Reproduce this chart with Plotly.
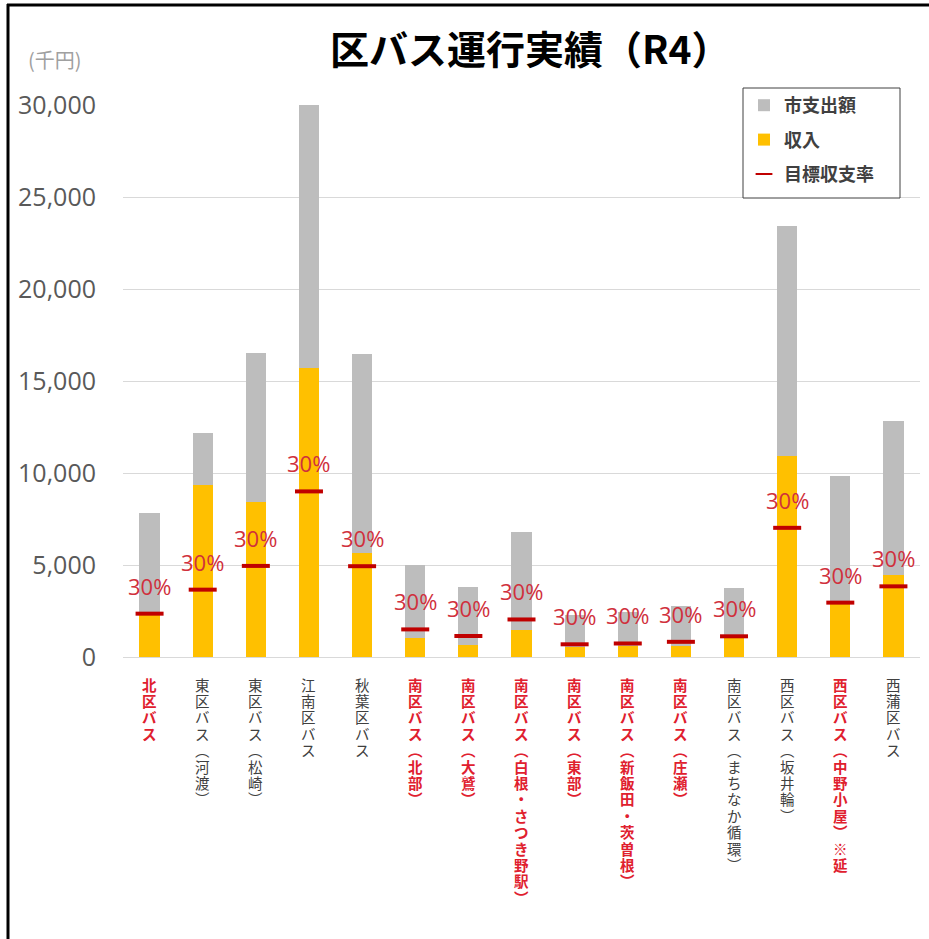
import plotly.graph_objects as go

# 区バス路線（各カテゴリ）
routes = [
    "北区バス",
    "東区バス（河渡）",
    "東区バス（松崎）",
    "江南区バス",
    "秋葉区バス",
    "南区バス（北部）",
    "南区バス（大鷲）",
    "南区バス（白根・さつき野駅）",
    "南区バス（東部）",
    "南区バス（新飯田・茨曽根）",
    "南区バス（庄瀬）",
    "南区バス（まちなか循環）",
    "西区バス（坂井輪）",
    "西区バス（中野小屋）※延",
    "西蒲区バス",
]

# 収入（千円）
income = [2300, 9350, 8400, 15700, 5650, 1050, 650, 1450, 520, 600, 620, 1130, 10900, 2900, 4450]

# 市支出額（千円）
city_expenditure = [5550, 2850, 8100, 14300, 10800, 3950, 3150, 5350, 1780, 1850, 2130, 2620, 12500, 6950, 8350]

# 目標収支率
target_rate = [0.30, 0.30, 0.30, 0.30, 0.30, 0.30, 0.30, 0.30, 0.30, 0.30, 0.30, 0.30, 0.30, 0.30, 0.30]

# 目標未達の路線（赤字で表示）
below_target = [
    "北区バス",
    "南区バス（北部）",
    "南区バス（大鷲）",
    "南区バス（白根・さつき野駅）",
    "南区バス（東部）",
    "南区バス（新飯田・茨曽根）",
    "南区バス（庄瀬）",
    "西区バス（中野小屋）※延",
]

y_ticks = [0, 5000, 10000, 15000, 20000, 25000, 30000]

# 運行経費合計と目標収入
total_cost = [i + c for i, c in zip(income, city_expenditure)]
target_income = [r * t for r, t in zip(target_rate, total_cost)]

JP = "Noto Sans CJK JP"
GRAY_BAR = "#BDBDBD"
YELLOW = "#FFC000"
RED_LINE = "#C00000"
RED_TEXT = "#E0202E"
DARK_TEXT = "#404040"

W, H = 929, 939
L, R, T, B = 123, 9, 105, 282
plot_w = W - L - R
plot_h = H - T - B

def px(v):
    return (v - L) / plot_w

def py(v):
    return (H - B - v) / plot_h

fig = go.Figure()

fig.add_trace(go.Bar(
    x=routes, y=income, name="収入",
    marker=dict(color=YELLOW, line=dict(width=0)),
    legendrank=2, legendgroup="g2",
))
fig.add_trace(go.Bar(
    x=routes, y=city_expenditure, name="市支出額",
    marker=dict(color=GRAY_BAR, line=dict(width=0)),
    legendrank=1, legendgroup="g1",
))
fig.add_trace(go.Scatter(
    x=routes, y=target_income, name="目標収支率", mode="markers",
    marker=dict(symbol="line-ew", size=20, color=RED_LINE,
                line=dict(color=RED_LINE, width=4)),
    legendrank=3, legendgroup="g3",
))

annotations = []

# 目標収支率ラベル
for name, tgt, rate in zip(routes, target_income, target_rate):
    annotations.append(dict(
        x=name, y=tgt, xref="x", yref="y",
        text=f"{rate:.0%}", showarrow=False,
        yanchor="middle", yshift=28,
        font=dict(family="Open Sans", size=22, color="#D0303C"),
    ))

# 縦書きのカテゴリラベル（1文字ずつ縦に並べる）
vertical_forms = {"（": "︵", "）": "︶"}
for name in routes:
    red = name in below_target
    for k, ch in enumerate(name):
        annotations.append(dict(
            x=name, y=0, xref="x", yref="paper",
            text=vertical_forms.get(ch, ch), showarrow=False,
            yanchor="middle", xanchor="center",
            yshift=-(27 + k * 16.4),
            font=dict(family=JP, size=14.5,
                      color=RED_TEXT if red else DARK_TEXT,
                      weight="bold" if red else "normal"),
        ))

# タイトルと単位
annotations.append(dict(
    x=px(530), y=py(47), xref="paper", yref="paper",
    text="<b>区バス運行実績（R4）</b>", showarrow=False,
    xanchor="center", yanchor="middle",
    font=dict(family=JP, size=39, color="#000000"),
))
annotations.append(dict(
    x=px(55), y=py(60), xref="paper", yref="paper",
    text="(千円)", showarrow=False,
    xanchor="center", yanchor="middle",
    font=dict(family=JP, size=20, color="#A0A0A0"),
))

shapes = [
    # 外枠（左・上）
    dict(type="line", xref="paper", yref="paper",
         x0=px(8), x1=px(8), y0=py(4), y1=py(H + 5),
         line=dict(color="#000000", width=3)),
    dict(type="line", xref="paper", yref="paper",
         x0=px(7), x1=px(W + 5), y0=py(5), y1=py(5),
         line=dict(color="#000000", width=3)),
    # 凡例の枠
    dict(type="rect", xref="paper", yref="paper", layer="above",
         x0=px(743), x1=px(900), y0=py(198), y1=py(88),
         fillcolor="white", line=dict(color="#404040", width=1)),
]

fig.update_layout(
    width=W, height=H,
    margin=dict(l=L, r=R, t=T, b=B, pad=0),
    paper_bgcolor="white", plot_bgcolor="white",
    barmode="stack", bargap=0.62,
    showlegend=True,
    legend=dict(
        x=px(744), y=py(87), xanchor="left", yanchor="top",
        bgcolor="rgba(0,0,0,0)", borderwidth=0,
        font=dict(family=JP, size=18, color=DARK_TEXT, weight="bold"),
        traceorder="grouped", tracegroupgap=8,
        itemsizing="constant",
    ),
    annotations=annotations,
    shapes=shapes,
    xaxis=dict(
        type="category", showticklabels=False, showgrid=False,
        showline=False, ticks="", range=[-0.5, len(routes) - 0.5],
    ),
    yaxis=dict(
        range=[0, 30000], tickvals=y_ticks, tickformat=",",
        showgrid=True, gridcolor="#D9D9D9", gridwidth=1,
        zeroline=True, zerolinecolor="#D9D9D9", zerolinewidth=1,
        showline=False, ticks="", ticklabelstandoff=26,
        tickfont=dict(family="Open Sans", size=25, color="#595959"),
    ),
)

fig.write_html("out.html")
